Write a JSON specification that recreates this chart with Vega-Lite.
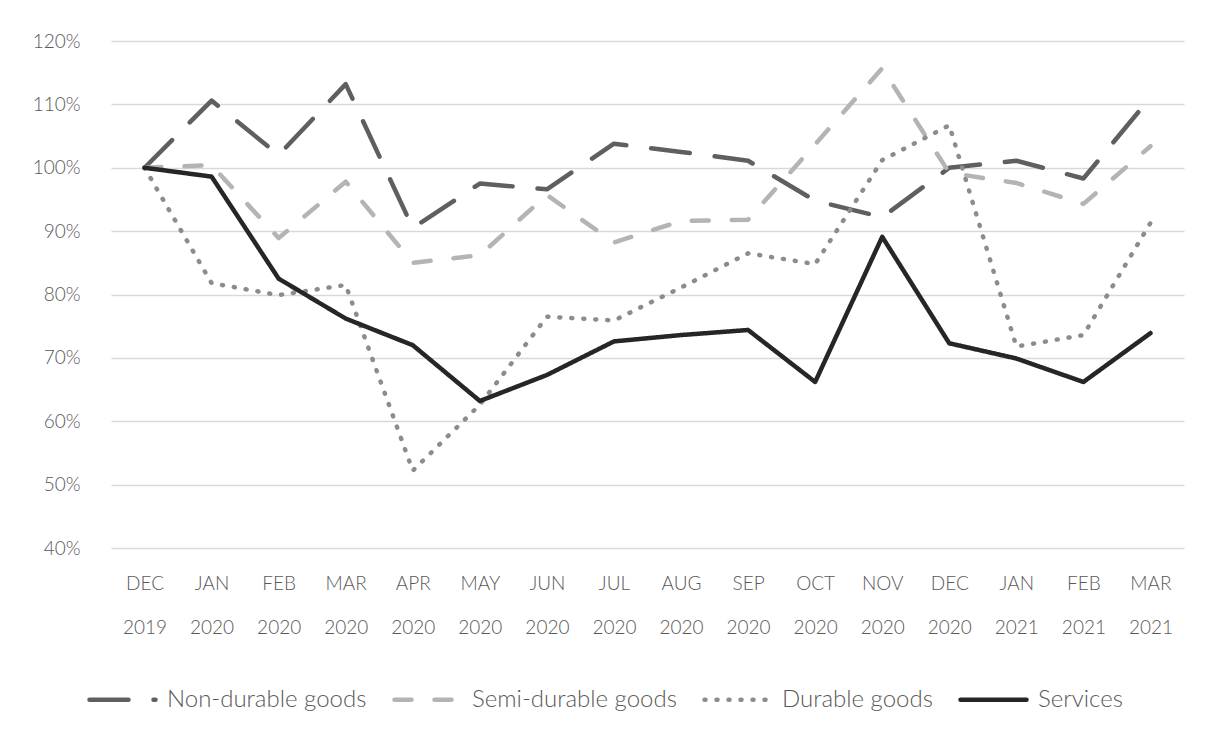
{
  "$schema": "https://vega.github.io/schema/vega-lite/v6.json",
  "width": 1073,
  "height": 507,
  "autosize": {"type": "none"},
  "padding": {"left": 111, "top": 41, "right": 24, "bottom": 194},
  "background": "white",
  "config": {"view": {"stroke": null}, "font": "Lato"},
  "data": {
    "values": [
      {"month": "DEC 2019", "series": "Non-durable goods", "value": 100},
      {"month": "JAN 2020", "series": "Non-durable goods", "value": 110.6},
      {"month": "FEB 2020", "series": "Non-durable goods", "value": 102},
      {"month": "MAR 2020", "series": "Non-durable goods", "value": 113.2},
      {"month": "APR 2020", "series": "Non-durable goods", "value": 90.5},
      {"month": "MAY 2020", "series": "Non-durable goods", "value": 97.5},
      {"month": "JUN 2020", "series": "Non-durable goods", "value": 96.6},
      {"month": "JUL 2020", "series": "Non-durable goods", "value": 103.8},
      {"month": "AUG 2020", "series": "Non-durable goods", "value": 102.5},
      {"month": "SEP 2020", "series": "Non-durable goods", "value": 101.1},
      {"month": "OCT 2020", "series": "Non-durable goods", "value": 94.8},
      {"month": "NOV 2020", "series": "Non-durable goods", "value": 92.2},
      {"month": "DEC 2020", "series": "Non-durable goods", "value": 100},
      {"month": "JAN 2021", "series": "Non-durable goods", "value": 101.1},
      {"month": "FEB 2021", "series": "Non-durable goods", "value": 98.3},
      {"month": "MAR 2021", "series": "Non-durable goods", "value": 111.1},
      {"month": "DEC 2019", "series": "Semi-durable goods", "value": 100},
      {"month": "JAN 2020", "series": "Semi-durable goods", "value": 100.4},
      {"month": "FEB 2020", "series": "Semi-durable goods", "value": 88.9},
      {"month": "MAR 2020", "series": "Semi-durable goods", "value": 97.8},
      {"month": "APR 2020", "series": "Semi-durable goods", "value": 85},
      {"month": "MAY 2020", "series": "Semi-durable goods", "value": 86.2},
      {"month": "JUN 2020", "series": "Semi-durable goods", "value": 95.7},
      {"month": "JUL 2020", "series": "Semi-durable goods", "value": 88.2},
      {"month": "AUG 2020", "series": "Semi-durable goods", "value": 91.6},
      {"month": "SEP 2020", "series": "Semi-durable goods", "value": 91.8},
      {"month": "OCT 2020", "series": "Semi-durable goods", "value": 103.7},
      {"month": "NOV 2020", "series": "Semi-durable goods", "value": 115.7},
      {"month": "DEC 2020", "series": "Semi-durable goods", "value": 99.2},
      {"month": "JAN 2021", "series": "Semi-durable goods", "value": 97.6},
      {"month": "FEB 2021", "series": "Semi-durable goods", "value": 94.3},
      {"month": "MAR 2021", "series": "Semi-durable goods", "value": 103.4},
      {"month": "DEC 2019", "series": "Durable goods", "value": 100},
      {"month": "JAN 2020", "series": "Durable goods", "value": 81.8},
      {"month": "FEB 2020", "series": "Durable goods", "value": 79.9},
      {"month": "MAR 2020", "series": "Durable goods", "value": 81.5},
      {"month": "APR 2020", "series": "Durable goods", "value": 52.2},
      {"month": "MAY 2020", "series": "Durable goods", "value": 62.6},
      {"month": "JUN 2020", "series": "Durable goods", "value": 76.5},
      {"month": "JUL 2020", "series": "Durable goods", "value": 75.9},
      {"month": "AUG 2020", "series": "Durable goods", "value": 81.1},
      {"month": "SEP 2020", "series": "Durable goods", "value": 86.5},
      {"month": "OCT 2020", "series": "Durable goods", "value": 84.8},
      {"month": "NOV 2020", "series": "Durable goods", "value": 101.2},
      {"month": "DEC 2020", "series": "Durable goods", "value": 106.7},
      {"month": "JAN 2021", "series": "Durable goods", "value": 71.8},
      {"month": "FEB 2021", "series": "Durable goods", "value": 73.6},
      {"month": "MAR 2021", "series": "Durable goods", "value": 91.3},
      {"month": "DEC 2019", "series": "Services", "value": 100},
      {"month": "JAN 2020", "series": "Services", "value": 98.6},
      {"month": "FEB 2020", "series": "Services", "value": 82.5},
      {"month": "MAR 2020", "series": "Services", "value": 76.2},
      {"month": "APR 2020", "series": "Services", "value": 72},
      {"month": "MAY 2020", "series": "Services", "value": 63.2},
      {"month": "JUN 2020", "series": "Services", "value": 67.3},
      {"month": "JUL 2020", "series": "Services", "value": 72.6},
      {"month": "AUG 2020", "series": "Services", "value": 73.6},
      {"month": "SEP 2020", "series": "Services", "value": 74.4},
      {"month": "OCT 2020", "series": "Services", "value": 66.2},
      {"month": "NOV 2020", "series": "Services", "value": 89.1},
      {"month": "DEC 2020", "series": "Services", "value": 72.3},
      {"month": "JAN 2021", "series": "Services", "value": 69.9},
      {"month": "FEB 2021", "series": "Services", "value": 66.2},
      {"month": "MAR 2021", "series": "Services", "value": 73.9}
    ]
  },
  "mark": {"type": "line", "strokeCap": "round", "strokeJoin": "round"},
  "encoding": {
    "x": {
      "field": "month",
      "type": "ordinal",
      "sort": null,
      "scale": {"type": "point", "padding": 0.5},
      "axis": {
        "title": null,
        "labelAngle": 0,
        "labelExpr": "split(datum.label, ' ')",
        "labelFont": "Lato",
        "labelFontWeight": 300,
        "labelFontSize": 19,
        "labelColor": "#595959",
        "labelPadding": 26,
        "labelLineHeight": 44,
        "labelBaseline": "top",
        "domain": false,
        "ticks": false,
        "grid": false
      }
    },
    "y": {
      "field": "value",
      "type": "quantitative",
      "scale": {"domain": [40, 120], "nice": false, "zero": false},
      "axis": {
        "title": null,
        "values": [40, 50, 60, 70, 80, 90, 100, 110, 120],
        "labelExpr": "datum.value + '%'",
        "labelFont": "Lato",
        "labelFontWeight": 300,
        "labelFontSize": 19,
        "labelColor": "#595959",
        "labelPadding": 31,
        "domain": false,
        "ticks": false,
        "grid": true,
        "gridColor": "#d9d9d9",
        "gridWidth": 1.3
      }
    },
    "color": {
      "field": "series",
      "type": "nominal",
      "scale": {
        "domain": ["Non-durable goods", "Semi-durable goods", "Durable goods", "Services"],
        "range": ["#5f5f5f", "#b4b4b4", "#8c8c8c", "#262626"]
      },
      "legend": {
        "orient": "none",
        "legendX": -24,
        "legendY": 623,
        "direction": "horizontal",
        "title": null,
        "symbolType": "stroke",
        "symbolSize": 4356,
        "labelFont": "Lato",
        "labelFontWeight": 300,
        "labelFontSize": 24,
        "labelColor": "#595959",
        "labelLimit": 0,
        "columnPadding": 18,
        "labelOffset": 9,
        "encode": {"symbols": {"update": {"strokeCap": {"value": "round"}}}}
      }
    },
    "strokeDash": {
      "field": "series",
      "type": "nominal",
      "scale": {
        "domain": ["Non-durable goods", "Semi-durable goods", "Durable goods", "Services"],
        "range": [[39, 25], [17, 23], [1, 11], [1, 0]]
      }
    },
    "strokeWidth": {
      "field": "series",
      "type": "nominal",
      "scale": {
        "domain": ["Non-durable goods", "Semi-durable goods", "Durable goods", "Services"],
        "range": [4.5, 4.5, 4.5, 5]
      }
    }
  }
}
